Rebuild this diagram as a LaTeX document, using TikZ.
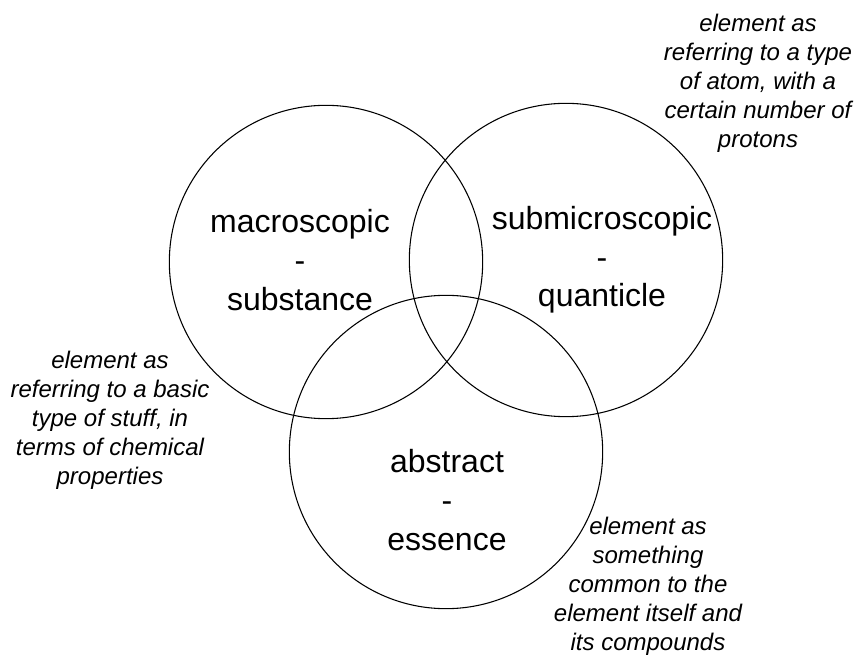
\documentclass[tikz,border=0pt]{standalone}
\usepackage{fontspec}
\setmainfont{Liberation Sans}
\usepackage{tikz}
\usetikzlibrary{shapes,calc}
\tikzstyle{tsCircle} = [
    circle,
    draw=black,
    line width=0.8pt,
    inner sep=0pt,
    minimum size=235pt]
\tikzstyle{tsLarge} = [
    text=black,
    align=center,
    font=\fontsize{24}{29}\selectfont]
\tikzstyle{tsNote} = [
    text=black,
    align=center,
    font=\fontsize{18}{21.75}\selectfont\itshape]

\begin{document}
\begin{tikzpicture}[x=0.75pt, y=-0.75pt]

        \useasboundingbox (0,0) rectangle (856,655);

        \node[tsCircle] (macro) at (326,262) { };
        \node[tsCircle] (submicro) at (566,260) { };
        \node[tsCircle] (abstract) at (446,452) { };

        \node[tsLarge] (macroText) at (300,260) {macroscopic\\-\\substance};
        \node[tsLarge] (submicroText) at (602,260) {submicroscopic\\-\\quanticle};
        \node[tsLarge] (abstractText) at (447,500) {abstract\\-\\essence};

        \node[tsNote] (noteAtom) at (758,83) {element as\\referring to a type\\of atom, with a\\certain number of\\protons};
        \node[tsNote] (noteStuff) at (110,420) {element as\\referring to a basic\\type of stuff, in\\terms of chemical\\properties};
        \node[tsNote] (noteCommon) at (648,586) {element as\\something\\common to the\\element itself and\\its compounds};

\end{tikzpicture}
\end{document}
